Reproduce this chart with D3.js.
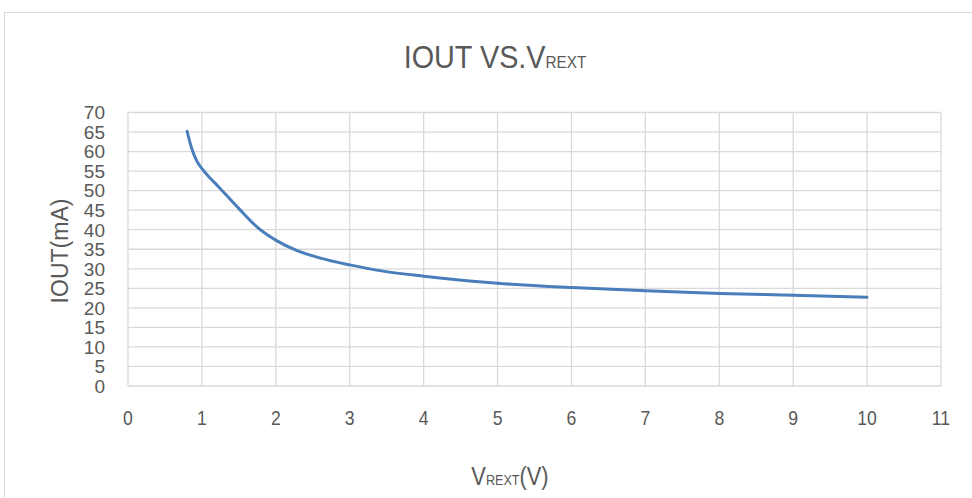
<!DOCTYPE html>
<html>
<head>
<meta charset="utf-8">
<script src="https://cdn.jsdelivr.net/npm/d3@7"></script>
<style>
  body { margin: 0; background: #fff; }
  text { fill: #595959; }
</style>
</head>
<body>
<svg width="972" height="498"></svg>
<script>
// values
var vrext = [0.8, 0.86, 0.93, 1.02, 1.24, 1.51, 1.74, 2.01, 2.28, 2.59, 3.0, 3.45, 4.0, 4.62, 5, 6, 7, 8, 9, 10];
var iout = [65.2, 60.9, 57.6, 55.2, 50.7, 45.2, 40.8, 37.2, 34.7, 32.8, 31.0, 29.4, 28.1, 26.9, 26.3, 25.2, 24.4, 23.7, 23.2, 22.7];
var xTicks = d3.range(0, 12, 1);
var yTicks = d3.range(0, 75, 5);

var svg = d3.select("svg"),
    width = +svg.attr("width"),
    height = +svg.attr("height");

var font = "'Liberation Sans', Arial, sans-serif";

// squeeze text horizontally around a point (narrow font look)
function narrow(cx, s) {
    return "translate(" + cx + ",0) scale(" + s + ",1) translate(" + (-cx) + ",0)";
}

// outer chart frame
svg.append("rect")
    .attr("x", 4.5).attr("y", 12.5)
    .attr("width", 1000).attr("height", 600)
    .attr("fill", "none")
    .attr("stroke", "#d9d9d9");

var x = d3.scaleLinear().domain([0, 11]).range([128, 941]);
var y = d3.scaleLinear().domain([0, 70]).range([386, 112.5]);

// grid
svg.append("g")
    .selectAll("line")
    .data(xTicks)
    .enter().append("line")
    .attr("x1", d => x(d)).attr("x2", d => x(d))
    .attr("y1", y(70)).attr("y2", y(0))
    .attr("stroke", "#d9d9d9")
    .attr("stroke-width", 1.3);

svg.append("g")
    .selectAll("line")
    .data(yTicks)
    .enter().append("line")
    .attr("x1", x(0)).attr("x2", x(11))
    .attr("y1", d => y(d)).attr("y2", d => y(d))
    .attr("stroke", "#d9d9d9")
    .attr("stroke-width", 1.3);

// tick labels
svg.append("g")
    .selectAll("text")
    .data(yTicks)
    .enter().append("text")
    .attr("x", 105)
    .attr("y", d => y(d) + 6.8)
    .attr("text-anchor", "end")
    .attr("font-family", font)
    .attr("font-size", 19)
    .text(d => d);

svg.append("g")
    .selectAll("text")
    .data(xTicks)
    .enter().append("text")
    .attr("x", d => x(d))
    .attr("y", 425)
    .attr("text-anchor", "middle")
    .attr("font-family", font)
    .attr("font-size", 20)
    .attr("transform", d => narrow(x(d), 0.88))
    .text(d => d);

// curve
var line = d3.line()
    .x(d => x(d[0]))
    .y(d => y(d[1]))
    .curve(d3.curveMonotoneX);

svg.append("path")
    .datum(d3.zip(vrext, iout))
    .attr("d", line)
    .attr("fill", "none")
    .attr("stroke", "#4a7ebb")
    .attr("stroke-width", 3)
    .attr("stroke-linecap", "round");

// title
var title = svg.append("text")
    .attr("x", 495)
    .attr("y", 68)
    .attr("text-anchor", "middle")
    .attr("font-family", font)
    .attr("font-size", 32)
    .attr("transform", narrow(495, 0.9));
title.append("tspan").text("IOUT VS.V");
title.append("tspan").attr("font-size", 17).text("REXT");

// axis titles
var xt = svg.append("text")
    .attr("x", 510)
    .attr("y", 485)
    .attr("text-anchor", "middle")
    .attr("font-family", font)
    .attr("font-size", 26)
    .attr("transform", narrow(510, 0.84));
xt.append("tspan").text("V");
xt.append("tspan").attr("font-size", 15).text("REXT");
xt.append("tspan").text("(V)");

svg.append("text")
    .attr("transform", "translate(68,251) rotate(-90)")
    .attr("text-anchor", "middle")
    .attr("font-family", font)
    .attr("font-size", 23)
    .text("IOUT(mA)");
</script>
</body>
</html>
